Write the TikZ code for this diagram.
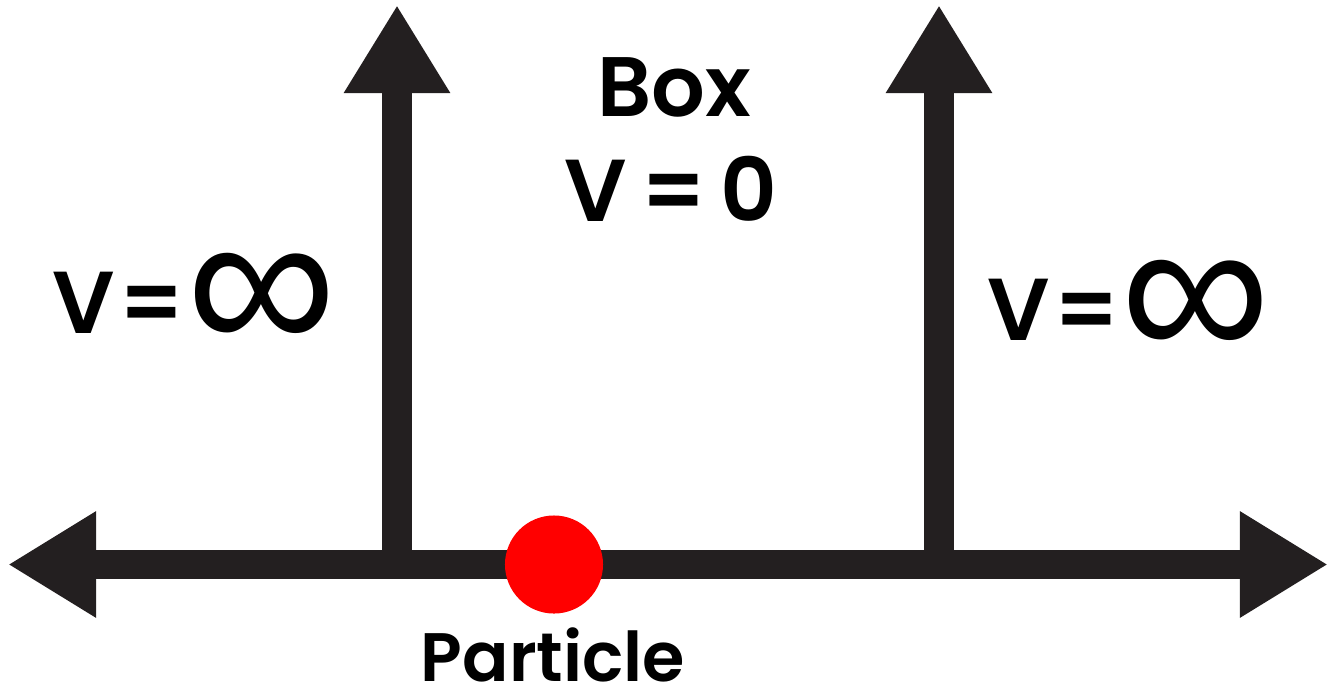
\documentclass[tikz,border=0pt]{standalone}
\usepackage{fontspec}
\setmainfont{Poppins}[BoldFont=Poppins SemiBold, WordSpace=0.7]
\newfontfamily\tightfont{Poppins SemiBold}[WordSpace=0.2]
\newfontfamily\inffont{Liberation Sans}
\usepackage{xcolor}
\usetikzlibrary{arrows.meta}
\definecolor{arrowblack}{HTML}{231F20}

\begin{document}
\begin{tikzpicture}[x=0.01cm,y=-0.01cm,
    axis/.style={arrowblack, line width=0.29cm},
    >={Triangle[length=0.88cm,width=1cm]},
    words/.style={font=\bfseries\fontsize{#1}{#1}\selectfont, inner sep=0pt},
    potential/.style={font=\tightfont\fontsize{25}{25}\selectfont, inner sep=0pt, anchor=base west},
    infsign/.style={font=\inffont\fontsize{60}{60}\selectfont, inner sep=0pt}]
    \useasboundingbox (0,0) rectangle (1335,696);
    \coordinate (west) at (8,564.5);
    \coordinate (east) at (1328,564.5);
    \coordinate (leftwall) at (397,564.5);
    \coordinate (lefttop) at (397,5);
    \coordinate (rightwall) at (939,564.5);
    \coordinate (righttop) at (939,5);
    \draw[axis,<->] (west) -- (east);
    \draw[axis,->] (leftwall) -- (lefttop);
    \draw[axis,->] (rightwall) -- (righttop);
    \node[circle,fill=red,minimum size=0.98cm,inner sep=0pt] (particle) at (554,564.5) {};
    \node[words=19.5,anchor=base,text depth=0pt] (particletext) at (553,681) {Particle};
    \node[words=24,anchor=base] (boxtext) at (674,116) {Box};
    \node[words=25,anchor=base] (boxpot) at (671,221) {V = 0};
    \node[potential] (leftv) at (52,333) {V =};
    \node[infsign] (leftinf) at (262,304) {∞};
    \node[potential] (rightv) at (987,340) {V =};
    \node[infsign] (rightinf) at (1196,311) {∞};
\end{tikzpicture}
\end{document}
